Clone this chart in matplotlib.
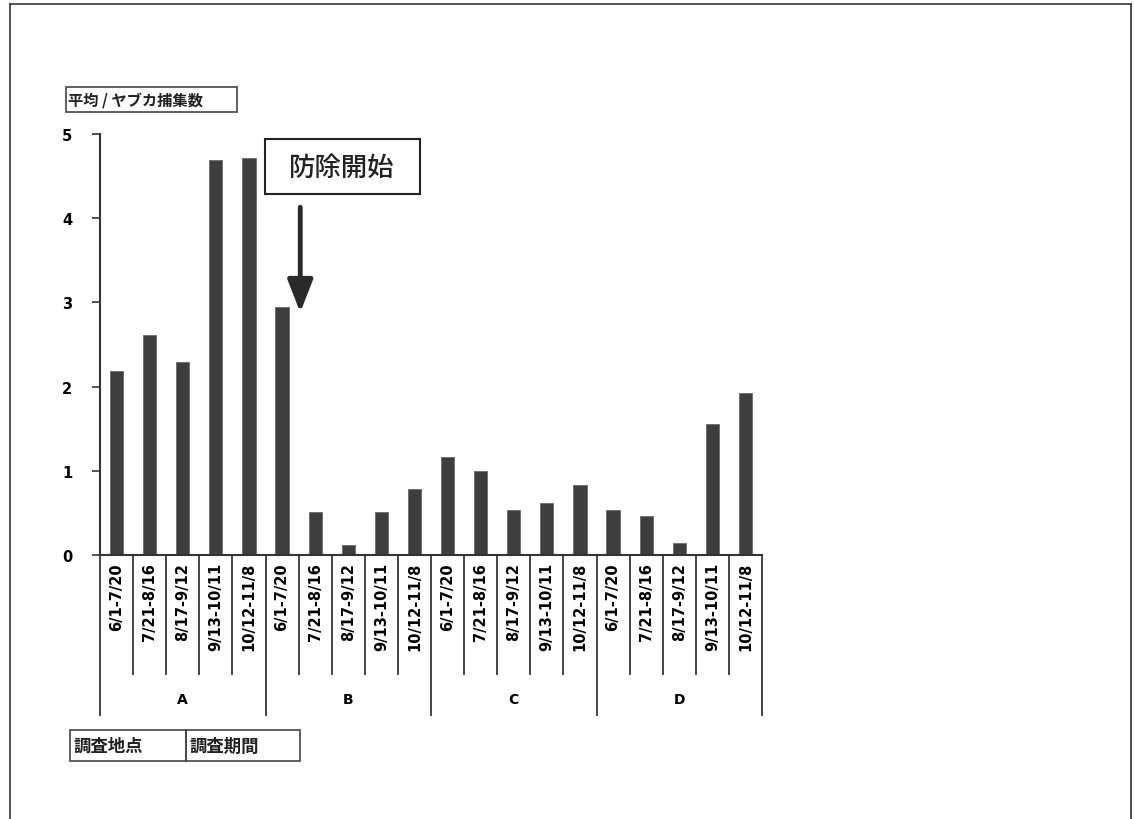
import matplotlib
matplotlib.use("Agg")
import matplotlib.pyplot as plt
from matplotlib.patches import Rectangle
from matplotlib.lines import Line2D
import matplotlib.transforms as mtrans

plt.rcParams['font.family'] = ['Noto Sans CJK JP', 'DejaVu Sans']

sites = ["A", "B", "C", "D"]
periods = ["6/1-7/20", "7/21-8/16", "8/17-9/12", "9/13-10/11", "10/12-11/8"]
values_A = [2.19, 2.61, 2.29, 4.69, 4.72]
values_B = [2.95, 0.51, 0.12, 0.51, 0.78]
values_C = [1.16, 1.00, 0.53, 0.62, 0.83]
values_D = [0.54, 0.46, 0.14, 1.55, 1.92]
y_ticks = [0, 1, 2, 3, 4, 5]
y_label = "平均 / ヤブカ捕集数"
annotation = "防除開始"
site_header = "調査地点"
period_header = "調査期間"

W, H = 1134, 820
fig = plt.figure(figsize=(W / 100, H / 100), dpi=100)

def px(x, y):
    return x / W, 1 - y / H

ax_left, ax_right, ax_top, ax_bottom = 100, 762, 135, 556
ax = fig.add_axes([ax_left / W, 1 - ax_bottom / H, (ax_right - ax_left) / W, (ax_bottom - ax_top) / H])

all_values = values_A + values_B + values_C + values_D
n = len(all_values)
xs = list(range(n))
ax.bar(xs, all_values, width=0.4, color="#3e3e3e", edgecolor="#6a6a6a", linewidth=0.6)
ax.set_xlim(-0.5, n - 0.5)
ax.set_ylim(0, 5)
ax.set_yticks(y_ticks)
ax.set_yticklabels([str(t) for t in y_ticks], fontsize=10.5, fontweight="bold", family="DejaVu Sans")
ax.tick_params(axis="y", direction="out", length=6, width=1.2, pad=14, color="#333333")
ax.set_xticks([])
for s in ["top", "right"]:
    ax.spines[s].set_visible(False)
for s in ["left", "bottom"]:
    ax.spines[s].set_linewidth(1.5)
    ax.spines[s].set_color("#333333")

trans = mtrans.blended_transform_factory(ax.transData, ax.transAxes)
span = ax_bottom - ax_top
short_end = -(675 - ax_bottom) / span
long_end = -(716 - ax_bottom) / span
label_top = -(563 - ax_bottom) / span
group_y = -(700 - ax_bottom) / span

ng = len(periods)
for k in range(n + 1):
    xb = k - 0.5
    yend = long_end if k % ng == 0 else short_end
    ax.add_line(Line2D([xb, xb], [0, yend], transform=trans, clip_on=False,
                       color="#444444", linewidth=1.4))

for i in range(n):
    ax.text(i, label_top, periods[i % ng], transform=trans, rotation=90,
            ha="center", va="top", fontsize=10.5, fontweight="bold", family="DejaVu Sans")

for g, s in enumerate(sites):
    ax.text(g * ng + (ng - 1) / 2, group_y, s, transform=trans, ha="center", va="center",
            fontsize=10, fontweight="bold", family="DejaVu Sans")

# annotation box and arrow
fig.patches.append(Rectangle(px(265, 195), (420 - 265) / W, (195 - 140) / H,
                             transform=fig.transFigure, fill=False, edgecolor="#222222", linewidth=1.5))
fig.text(*px(342, 168), annotation, ha="center", va="center", fontsize=19, fontweight="medium", color="#222222")
ax.annotate("", xy=(5.55, 2.88), xytext=(5.55, 4.13),
            arrowprops=dict(arrowstyle="-|>,head_width=0.35,head_length=0.9", color="#2a2a2a",
                            linewidth=3.5, mutation_scale=22, shrinkA=0, shrinkB=0))

# y label box
fig.patches.append(Rectangle(px(66, 113), (237 - 66) / W, (113 - 88) / H,
                             transform=fig.transFigure, fill=False, edgecolor="#444444", linewidth=1.2))
fig.text(*px(68, 100), y_label, ha="left", va="center", fontsize=11, fontweight="bold", color="#222222")

# bottom header boxes
fig.patches.append(Rectangle(px(70, 762), (186 - 70) / W, (762 - 731) / H,
                             transform=fig.transFigure, fill=False, edgecolor="#444444", linewidth=1.2))
fig.patches.append(Rectangle(px(186, 762), (300 - 186) / W, (762 - 731) / H,
                             transform=fig.transFigure, fill=False, edgecolor="#444444", linewidth=1.2))
fig.text(*px(73, 747), site_header, ha="left", va="center", fontsize=12.5, fontweight="bold", color="#222222")
fig.text(*px(189, 747), period_header, ha="left", va="center", fontsize=12.5, fontweight="bold", color="#222222")

# outer border
for (x0, y0, x1, y1) in [(10, 5, 10, 820), (10, 5, 1131, 5), (1131, 5, 1131, 820)]:
    a, b = px(x0, y0)
    c, d = px(x1, y1)
    fig.add_artist(Line2D([a, c], [b, d], transform=fig.transFigure, color="#333333", linewidth=1.2))

fig.savefig("out.png", dpi=100)
